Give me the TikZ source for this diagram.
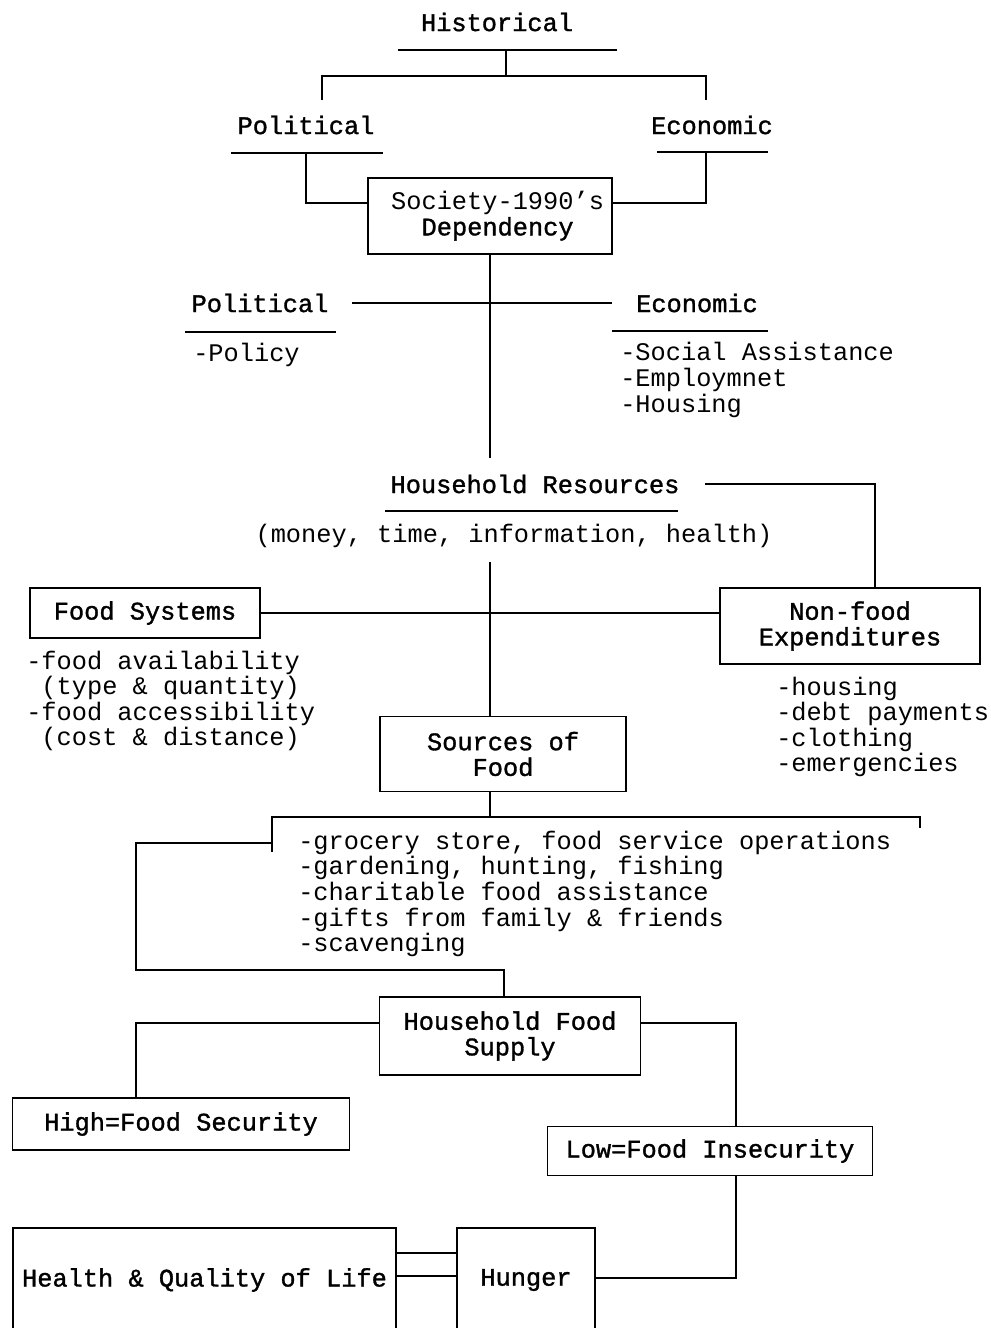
\documentclass[tikz,border=0pt]{standalone}
\usepackage{fontspec}
\setmainfont{Liberation Mono}
\newfontface\hdface[FakeBold=1.3]{Liberation Mono}
\begin{document}
\begin{tikzpicture}[x=0.75pt,y=-0.75pt,
  every node/.style={font=\fontsize{19}{19.2}\selectfont, inner sep=0pt},
  box/.style={draw, line width=0.8pt, align=center, font=\fontsize{19}{19.2}\hdface},
  head/.style={font=\fontsize{19}{19.2}\hdface},
  plain/.style={align=left, anchor=west},
  ln/.style={line width=0.8pt}]
\useasboundingbox (0,0) rectangle (991,1328);
\clip (0,0) rectangle (991,1328);

% ---- nodes ----
\node[head] (hist) at (497,22) {Historical};
\node[head] (pol1) at (306,125) {Political};
\node[head] (eco1) at (712,125) {Economic};
\node[box, minimum width=183pt, minimum height=57pt] (soc) at (490,216) {{\fontsize{19}{19.2}\selectfont\rmfamily\mdseries\ Society-1990's}\\\ Dependency};
\node[head] (pol2) at (260,303) {Political};
\node[head] (eco2) at (697,303) {Economic};
\node[plain] (policy) at (193,355) {-Policy};
\node[plain] (ecol) at (620,380) {-Social Assistance\\-Employmnet\\-Housing};
\node[head] (hres) at (535,484) {Household Resources};
\node (hresn) at (514,536) {(money, time, information, health)};
\node[box, minimum width=172.5pt, minimum height=37.5pt] (fs) at (145,613) {Food Systems};
\node[box, minimum width=195pt, minimum height=57pt] (nf) at (850,626) {Non-food\\Expenditures};
\node[plain] (fsl) at (26,701) {-food availability\\\phantom{-}(type \& quantity)\\-food accessibility\\\phantom{-}(cost \& distance)};
\node[plain] (nfl) at (776,727) {-housing\\-debt payments\\-clothing\\-emergencies};
\node[box, minimum width=184.5pt, minimum height=56.25pt] (sof) at (503,754) {Sources of\\Food};
\node[plain] (srcl) at (298,894) {-grocery store, food service operations\\-gardening, hunting, fishing\\-charitable food assistance\\-gifts from family \& friends\\-scavenging};
\node[box, minimum width=195.75pt, minimum height=58.5pt] (hfs) at (510,1036) {Household Food\\Supply};
\node[box, minimum width=252.75pt, minimum height=39pt] (high) at (181,1124) {High=Food Security};
\node[box, minimum width=243.75pt, minimum height=36.75pt] (low) at (710,1151) {Low=Food Insecurity};
\node[box, minimum width=103.5pt, minimum height=82.5pt, text depth=8.5pt] (hunger) at (526,1283) {Hunger};
\node[box, minimum width=287.25pt, minimum height=82.5pt, text depth=8.5pt] (health) at (204.5,1283) {Health \& Quality of Life};

% ---- coordinates ----
\coordinate (hu1) at (398,50);  \coordinate (hu2) at (617,50);
\coordinate (hj) at (506,50);   \coordinate (hb) at (506,76);
\coordinate (hld) at (322,100); \coordinate (hr) at (706,76); \coordinate (hrd) at (706,100);
\coordinate (pu1) at (231,153); \coordinate (pu2) at (383,153); \coordinate (pj) at (306,153);
\coordinate (eu1) at (657,152); \coordinate (eu2) at (768,152); \coordinate (ej) at (706,152);
\coordinate (socL) at (368.5,203); \coordinate (socR) at (611.5,203);
\coordinate (vmid) at (490,458);
\coordinate (pe1) at (352,303); \coordinate (pe2) at (612,303);
\coordinate (p2u1) at (185,332); \coordinate (p2u2) at (336,332);
\coordinate (e2u1) at (612,331); \coordinate (e2u2) at (768,331);
\coordinate (ru1) at (385,511); \coordinate (ru2) at (678,511);
\coordinate (hresR) at (705,484); \coordinate (nfT) at (875,588);
\coordinate (vtop) at (490,562);
\coordinate (bl) at (272,817); \coordinate (br) at (920,817);
\coordinate (bld) at (272,852); \coordinate (brd) at (920,828);
\coordinate (lk) at (136,843); \coordinate (lkj) at (272,843);
\coordinate (lb) at (504,970);
\coordinate (hfsL) at (379.5,1023); \coordinate (hfsR) at (640.5,1023);
\coordinate (highT) at (136,1097.5); \coordinate (lowT) at (736,1126.5);
\coordinate (lowB) at (736,1175.5); \coordinate (hunR) at (595,1278);
\coordinate (hq1) at (396,1253); \coordinate (hq2) at (396,1276);

% ---- lines ----
\draw[ln] (hu1) -- (hu2);
\draw[ln] (hj) -- (hb);
\draw[ln] (hld) |- (hr) -- (hrd);
\draw[ln] (pu1) -- (pu2);
\draw[ln] (eu1) -- (eu2);
\draw[ln] (pj) |- (socL);
\draw[ln] (ej) |- (socR);
\draw[ln] (soc.south -| vmid) -- (vmid);
\draw[ln] (pe1) -- (pe2);
\draw[ln] (p2u1) -- (p2u2);
\draw[ln] (e2u1) -- (e2u2);
\draw[ln] (ru1) -- (ru2);
\draw[ln] (hresR) -| (nfT);
\draw[ln] (vtop) -- (vtop |- sof.north);
\draw[ln] (fs.east) -- (fs.east -| nf.west);
\draw[ln] (vtop |- sof.south) -- (vtop |- bl);
\draw[ln] (bld) -- (bl) -- (br) -- (brd);
\draw[ln] (lkj) -- (lk) |- (lb) -- (lb |- hfs.north);
\draw[ln] (hfsL) -| (highT);
\draw[ln] (hfsR) -| (lowT);
\draw[ln] (lowB) |- (hunR);
\draw[ln] (hq1) -- (hq1 -| hunger.west);
\draw[ln] (hq2) -- (hq2 -| hunger.west);
\end{tikzpicture}
\end{document}
